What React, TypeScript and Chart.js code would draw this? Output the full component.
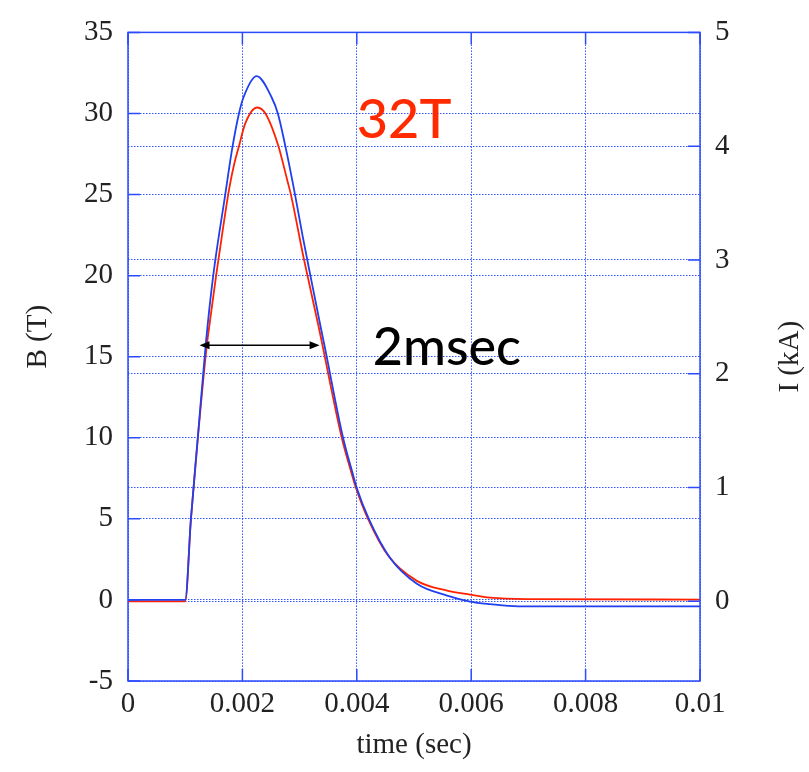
import React, { useEffect, useRef } from "react";
import { Chart, registerables } from "chart.js";

Chart.register(...registerables);

// ---- data ----
// Blue trace: magnetic field B (T), left axis
const timeB = [0, 0.001, 0.0011, 0.00122, 0.00136, 0.00149, 0.0017, 0.00182, 0.00194, 0.00202, 0.00225, 0.00251, 0.00262, 0.00275, 0.00292, 0.00305, 0.0032, 0.00337, 0.00344, 0.00376, 0.00392, 0.004, 0.00421, 0.00458, 0.00505, 0.00558, 0.00598, 0.00633, 0.00682, 0.01];
const fieldB = [0, 0, 5.0, 10.0, 15.8, 20.0, 25.0, 27.8, 30.0, 31.0, 32.3, 31.0, 30.0, 28.0, 25.0, 22.5, 19.8, 16.8, 15.6, 10.0, 7.9, 6.9, 5.0, 2.6, 1.0, 0.27, -0.1, -0.26, -0.4, -0.4];

// Red trace: current I (kA), right axis
const timeI = [0, 0.001, 0.0011, 0.00122, 0.00138, 0.00143, 0.00154, 0.00158, 0.00177, 0.00186, 0.00194, 0.00205, 0.00226, 0.00241, 0.00263, 0.00271, 0.00279, 0.00285, 0.00307, 0.00333, 0.0034, 0.00374, 0.0039, 0.00399, 0.0042, 0.00455, 0.00505, 0.00558, 0.00598, 0.00633, 0.00698, 0.01];
const currentI = [0, 0, 0.72, 1.43, 2.26, 2.45, 2.86, 3.0, 3.63, 3.85, 4.0, 4.2, 4.34, 4.28, 4.0, 3.85, 3.69, 3.57, 3.02, 2.42, 2.25, 1.43, 1.14, 0.99, 0.72, 0.4, 0.18, 0.094, 0.059, 0.033, 0.02, 0.016];

// Ticks
const xTicks = [0, 0.002, 0.004, 0.006, 0.008, 0.01];
const xTickLabels = ["0", "0.002", "0.004", "0.006", "0.008", "0.01"];
const bTicks = [-5, 0, 5, 10, 15, 20, 25, 30, 35];
const iTicks = [0, 1, 2, 3, 4, 5];

// Annotations (in data units)
const arrowTimes = [0.00125, 0.00335];
const arrowField = 15.7;
const peakText = "32T";
const peakTextAt = [0.004, 28.5];
const widthText = "2msec";
const widthTextAt = [0.00428, 14.5];

// ---- styles ----
const FRAME = "#2b4bff";
const GRID = "#2f55ff";
const BLUE = "#1f3ff0";
const RED = "#ff2200";
const SERIF = "'Liberation Serif', 'Times New Roman', serif";
const tickFont = { family: SERIF, size: 29 };
const DASH = [1.5, 1.5];

const decor = {
  id: "decor",
  afterDraw(chart: any) {
    const { ctx, chartArea, scales } = chart;
    const { left, right, top, bottom } = chartArea;
    const x = scales.x, y = scales.y, y1 = scales.y1;
    ctx.save();
    // frame
    ctx.strokeStyle = FRAME;
    ctx.lineWidth = 1.5;
    ctx.setLineDash([]);
    ctx.strokeRect(left, top, right - left, bottom - top);
    // inward tick marks
    const TL = 12;
    ctx.beginPath();
    x.ticks.forEach((t: any) => {
      const px = x.getPixelForValue(t.value);
      ctx.moveTo(px, bottom); ctx.lineTo(px, bottom - TL);
      ctx.moveTo(px, top); ctx.lineTo(px, top + TL);
    });
    y.ticks.forEach((t: any) => {
      const py = y.getPixelForValue(t.value);
      ctx.moveTo(left, py); ctx.lineTo(left + TL, py);
    });
    y1.ticks.forEach((t: any) => {
      const py = y1.getPixelForValue(t.value);
      ctx.moveTo(right, py); ctx.lineTo(right - TL, py);
    });
    ctx.stroke();

    // double arrow
    const ax0 = x.getPixelForValue(arrowTimes[0]);
    const ax1 = x.getPixelForValue(arrowTimes[1]);
    const ay = y.getPixelForValue(arrowField);
    ctx.strokeStyle = "#000";
    ctx.fillStyle = "#000";
    ctx.lineWidth = 1.5;
    ctx.beginPath();
    ctx.moveTo(ax0 + 4, ay); ctx.lineTo(ax1 - 4, ay);
    ctx.stroke();
    ctx.beginPath();
    ctx.moveTo(ax0, ay); ctx.lineTo(ax0 + 10, ay - 4); ctx.lineTo(ax0 + 10, ay + 4); ctx.closePath();
    ctx.moveTo(ax1, ay); ctx.lineTo(ax1 - 10, ay - 4); ctx.lineTo(ax1 - 10, ay + 4); ctx.closePath();
    ctx.fill();

    // annotation texts
    ctx.textBaseline = "alphabetic";
    ctx.textAlign = "left";
    ctx.font = "500 54px Lato, 'Open Sans', sans-serif";
    ctx.fillStyle = "#ff2a00";
    ctx.fillText(peakText, x.getPixelForValue(peakTextAt[0]), y.getPixelForValue(peakTextAt[1]));
    ctx.font = "500 52px Lato, 'Open Sans', sans-serif";
    ctx.fillStyle = "#000";
    ctx.fillText(widthText, x.getPixelForValue(widthTextAt[0]), y.getPixelForValue(widthTextAt[1]));

    // axis titles (both read bottom-to-top)
    ctx.font = `29px ${SERIF}`;
    ctx.fillStyle = "#222";
    ctx.textAlign = "center";
    ctx.textBaseline = "middle";
    const midY = (top + bottom) / 2;
    ctx.save();
    ctx.translate(y.left + 38, midY - 20);
    ctx.rotate(-Math.PI / 2);
    ctx.fillText("B (T)", 0, 0);
    ctx.restore();
    ctx.save();
    ctx.translate(y1.right - 19, midY);
    ctx.rotate(-Math.PI / 2);
    ctx.fillText("I (kA)", 0, 0);
    ctx.restore();

    ctx.restore();
  },
};

export default function App() {
  const ref = useRef<HTMLCanvasElement>(null);
  useEffect(() => {
    document.body.style.margin = "0";
    const canvas = ref.current!;
    const chart = new Chart(canvas, {
      type: "line",
      data: {
        datasets: [
          {
            label: "B (T)",
            data: timeB.map((t, i) => ({ x: t, y: fieldB[i] })),
            yAxisID: "y",
            borderColor: BLUE,
            borderWidth: 1.8,
            pointRadius: 0,
            cubicInterpolationMode: "monotone",
            order: 0,
          },
          {
            label: "I (kA)",
            data: timeI.map((t, i) => ({ x: t, y: currentI[i] })),
            yAxisID: "y1",
            borderColor: RED,
            borderWidth: 1.8,
            pointRadius: 0,
            cubicInterpolationMode: "monotone",
            order: 1,
          },
        ],
      },
      options: {
        animation: false,
        responsive: false,
        devicePixelRatio: 1,
        layout: { padding: { top: 28, left: 0, right: 0, bottom: 0 } },
        plugins: { legend: { display: false }, tooltip: { enabled: false } },
        scales: {
          x: {
            type: "linear",
            min: 0,
            max: 0.01,
            afterBuildTicks: (s: any) => { s.ticks = xTicks.map((v) => ({ value: v })); },
            afterFit: (s: any) => { s.height = 91; },
            ticks: {
              callback: (_v: any, i: number) => xTickLabels[i],
              font: tickFont,
              color: "#222",
              padding: 6,
              maxRotation: 0,
              autoSkip: false,
            },
            grid: { color: GRID, lineWidth: 1, drawTicks: false },
            border: { display: false, dash: DASH },
            title: {
              display: true,
              text: "time (sec)",
              font: { family: SERIF, size: 29 },
              color: "#222",
              padding: { top: 0, bottom: 9 },
            },
          },
          y: {
            type: "linear",
            position: "left",
            min: -5,
            max: 35,
            afterBuildTicks: (s: any) => { s.ticks = bTicks.map((v) => ({ value: v })); },
            afterFit: (s: any) => { s.width = 128; },
            ticks: { font: tickFont, color: "#222", padding: 15 },
            grid: { color: GRID, lineWidth: 1, drawTicks: false },
            border: { display: false, dash: DASH },
          },
          y1: {
            type: "linear",
            position: "right",
            min: -0.7,
            max: 5,
            afterBuildTicks: (s: any) => { s.ticks = iTicks.map((v) => ({ value: v })); },
            afterFit: (s: any) => { s.width = 109; },
            ticks: { font: tickFont, color: "#222", padding: 15 },
            grid: { color: GRID, lineWidth: 1, drawTicks: false },
            border: { display: false, dash: DASH },
          },
        },
      },
      plugins: [decor],
    });
    return () => chart.destroy();
  }, []);
  return <canvas ref={ref} width={809} height={772} style={{ display: "block", width: 809, height: 772 }} />;
}
